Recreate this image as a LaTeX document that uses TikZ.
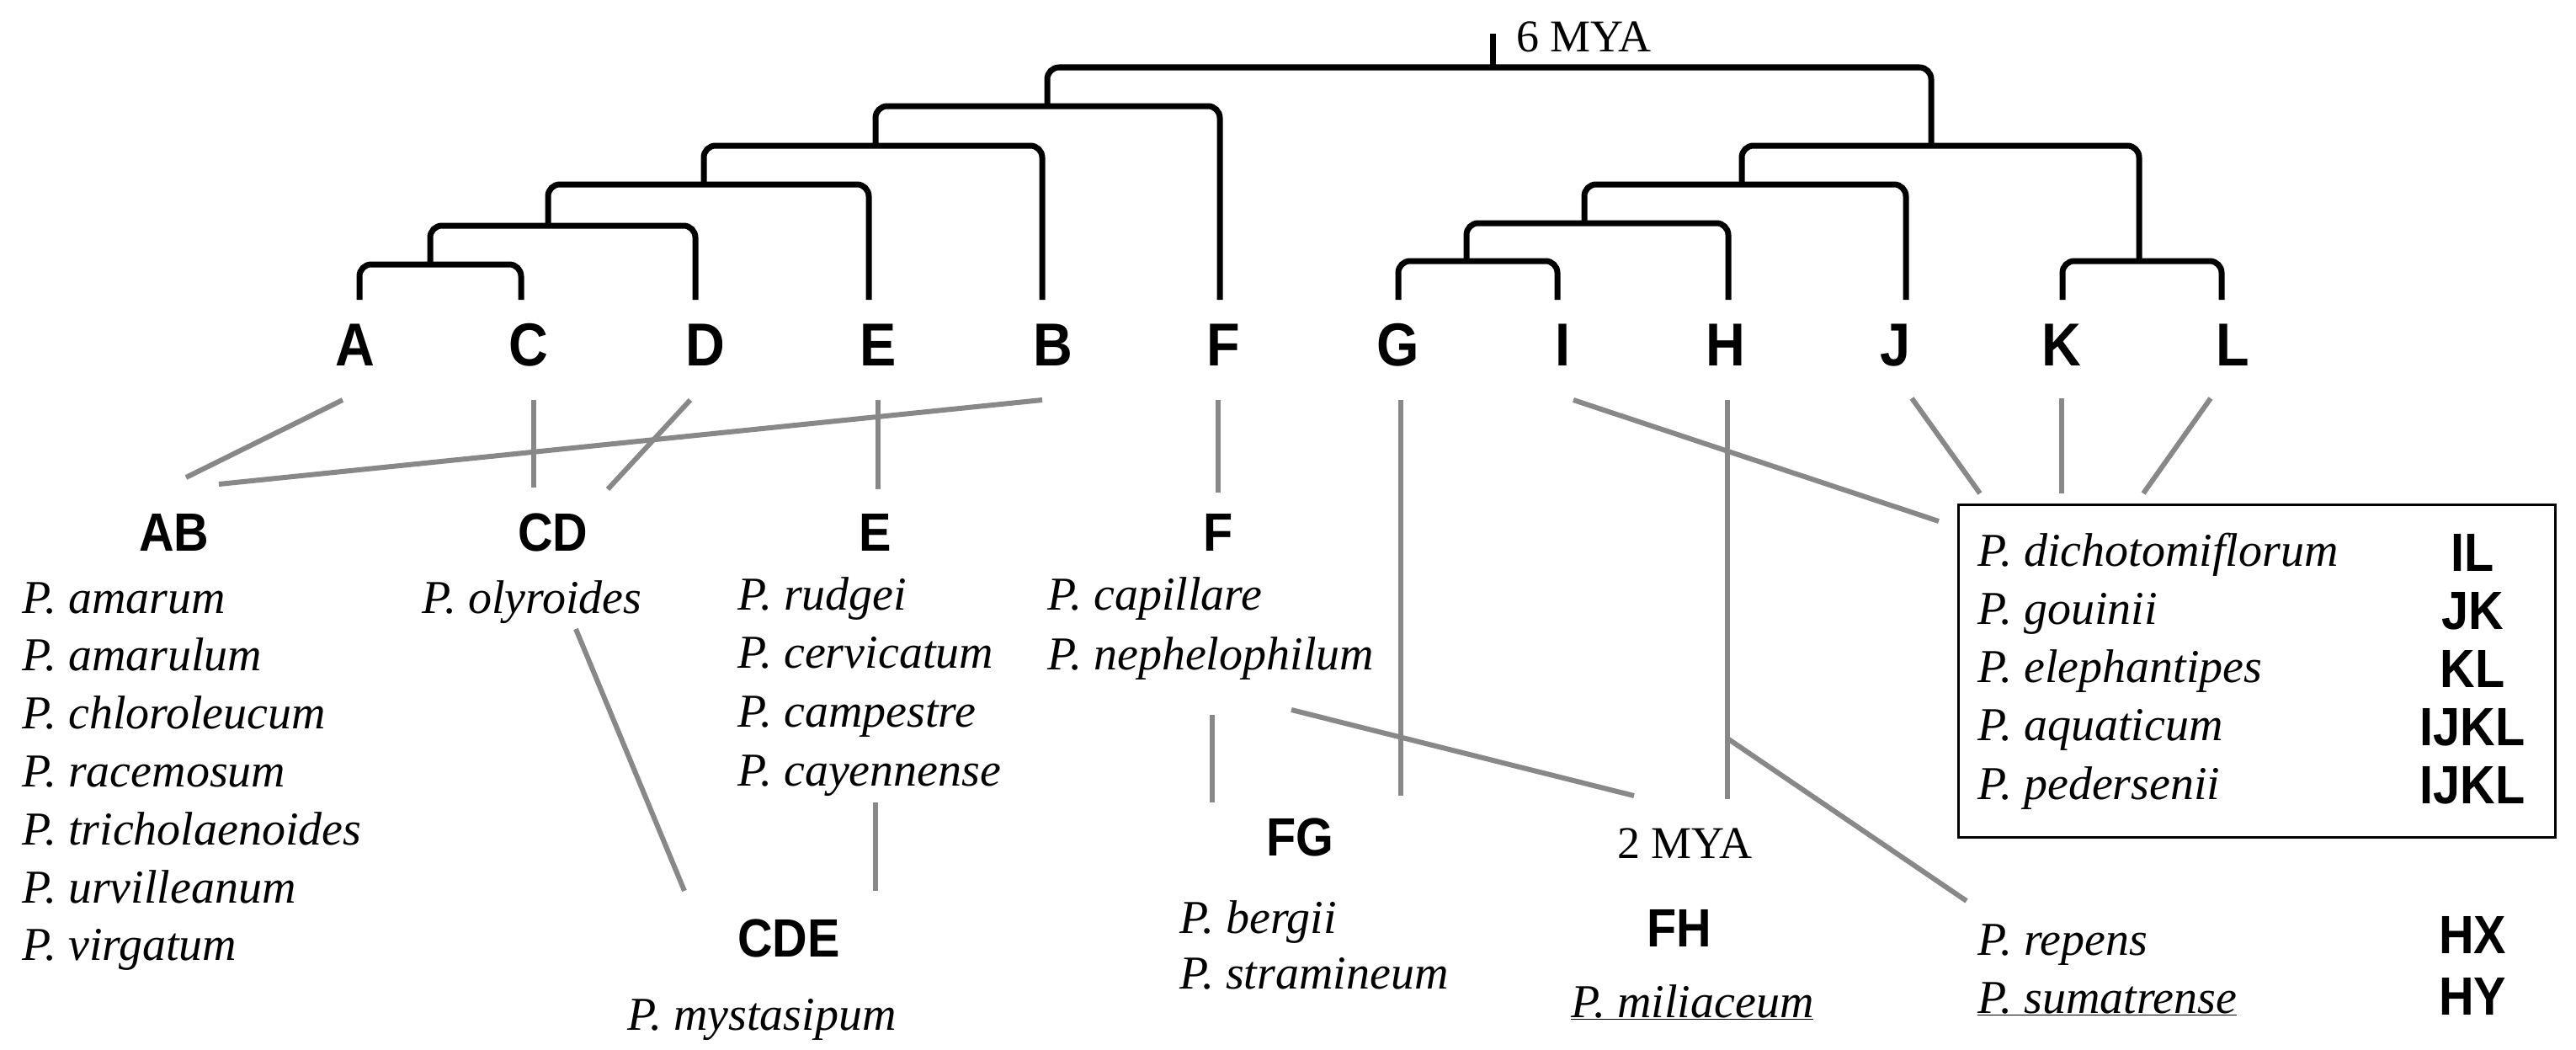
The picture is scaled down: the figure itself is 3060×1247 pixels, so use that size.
\documentclass[tikz,border=0pt]{standalone}
\usepackage{fontspec}
\setmainfont{Liberation Serif}
\newfontfamily\labf{Liberation Sans}[FakeStretch=0.9]
\begin{document}
\begin{tikzpicture}[x=1pt,y=-1pt,
  tree/.style={line width=7pt,rounded corners=14pt,line cap=butt},
  link/.style={line width=6pt,draw=gray!95!black!55,color={rgb,255:red,136;green,136;blue,136}},
  leaf/.style={font=\labf\bfseries\fontsize{72}{80}\selectfont,inner sep=0pt},
  grp/.style={font=\labf\bfseries\fontsize{64}{70}\selectfont,inner sep=0pt},
  sp/.style={font=\itshape\fontsize{56}{60}\selectfont,inner sep=0pt,anchor=base west},
  mya/.style={font=\fontsize{54}{60}\selectfont,inner sep=0pt}]
\useasboundingbox (0,0) rectangle (3060,1247);
% tree
\draw[tree] (1773,40) -- (1773,80);
\node[mya,anchor=west] (m6) at (1801,44) {6 MYA};
\draw[tree] (1244,126) -- (1244,80) -- (2294,80) -- (2294,173);
\draw[tree] (1040,173) -- (1040,126) -- (1449,126) -- (1449,356);
\draw[tree] (836,219) -- (836,173) -- (1238,173) -- (1238,356);
\draw[tree] (651,268) -- (651,219) -- (1032,219) -- (1032,356);
\draw[tree] (511,314) -- (511,268) -- (826,268) -- (826,356);
\draw[tree] (427,356) -- (427,314) -- (619,314) -- (619,356);
\draw[tree] (2069,219) -- (2069,173) -- (2541,173) -- (2541,310);
\draw[tree] (1882,265) -- (1882,219) -- (2264,219) -- (2264,356);
\draw[tree] (1742,310) -- (1742,265) -- (2053,265) -- (2053,356);
\draw[tree] (1661,356) -- (1661,310) -- (1850,310) -- (1850,356);
\draw[tree] (2450,356) -- (2450,310) -- (2639,310) -- (2639,356);
% leaves
\foreach \n/\x in {A/422,C/628,D/838,E/1043,B/1251,F/1453,G/1661,I/1856,H/2050,J/2251,K/2449,L/2652}
  \node[leaf] (\n) at (\x,410) {\n};
% group labels
\node[grp] (AB) at (207,632) {AB};
\node[grp] (CD) at (657,632) {CD};
\node[grp] (gE) at (1040,632) {E};
\node[grp] (gF) at (1447,632) {F};
\node[grp] (FG) at (1544,994) {FG};
\node[mya,anchor=west] (m2) at (1921,1002) {2 MYA};
\node[grp] (FH) at (1995,1102) {FH};
\node[grp] (CDE) at (937,1114) {CDE};
% species
\foreach \s [count=\i] in {amarum,amarulum,chloroleucum,racemosum,tricholaenoides,urvilleanum,virgatum}
  \node[sp] (ab\i) at (26,{728+68.8*(\i-1)}) {P. \s};
\node[sp] (ol) at (501,728) {P. olyroides};
\foreach \s [count=\i] in {rudgei,cervicatum,campestre,cayennense}
  \node[sp] (e\i) at (876,{724+69.7*(\i-1)}) {P. \s};
\node[sp] (f1) at (1244,724) {P. capillare};
\node[sp] (f2) at (1244,795) {P. nephelophilum};
\node[sp] (fg1) at (1401,1108) {P. bergii};
\node[sp] (fg2) at (1401,1174) {P. stramineum};
\node[sp] (my) at (745,1223) {P. mystasipum};
\node[sp] (mil) at (1866,1208) {\underline{P. miliaceum}};
% box
\draw[line width=3pt] (2326,599) rectangle (3035,994);
\foreach \s/\g [count=\i] in {dichotomiflorum/IL,gouinii/JK,elephantipes/KL,aquaticum/IJKL,pedersenii/IJKL}{
  \node[sp] (bx\i) at (2349,{672+69.3*(\i-1)}) {P. \s};
  \node[grp] (bg\i) at (2937,{656+69.3*(\i-1)}) {\g};}
\node[sp] (rep) at (2349,1134) {P. repens};
\node[sp] (sum) at (2349,1203) {\underline{P. sumatrense}};
\node[grp] (HX) at (2937,1110) {HX};
\node[grp] (HY) at (2937,1183) {HY};
% link end points
\coordinate (a1) at (407,475); \coordinate (a2) at (221,567);
\coordinate (b1) at (1238,475); \coordinate (b2) at (260,575);
\coordinate (c1) at (634,475); \coordinate (c2) at (634,579);
\coordinate (d1) at (820,475); \coordinate (d2) at (722,581);
\coordinate (e1) at (1043,475); \coordinate (e2) at (1043,581);
\coordinate (f1a) at (1447,475); \coordinate (f2a) at (1447,585);
\coordinate (g1) at (1664,475); \coordinate (g2) at (1664,945);
\coordinate (i1) at (1869,475); \coordinate (i2) at (2303,619);
\coordinate (h1) at (2052,475); \coordinate (h2) at (2052,949);
\coordinate (h3) at (2052,877); \coordinate (h4) at (2336,1070);
\coordinate (j1) at (2271,473); \coordinate (j2) at (2352,586);
\coordinate (k1) at (2449,473); \coordinate (k2) at (2449,586);
\coordinate (l1) at (2626,473); \coordinate (l2) at (2546,586);
\coordinate (o1) at (684,747); \coordinate (o2) at (813,1058);
\coordinate (y1) at (1040,953); \coordinate (y2) at (1040,1058);
\coordinate (n1) at (1440,849); \coordinate (n2) at (1440,953);
\coordinate (q1) at (1534,843); \coordinate (q2) at (1941,945);
\foreach \p/\q in {a1/a2,b1/b2,c1/c2,d1/d2,e1/e2,f1a/f2a,g1/g2,i1/i2,h1/h2,h3/h4,j1/j2,k1/k2,l1/l2,o1/o2,y1/y2,n1/n2,q1/q2}
  \draw[link] (\p) -- (\q);
\end{tikzpicture}
\end{document}
